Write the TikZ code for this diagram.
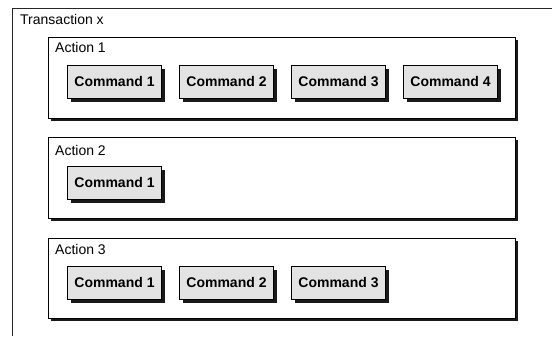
\documentclass[tikz,border=0pt]{standalone}
\usepackage{fontspec}
\setmainfont{Liberation Sans}
\usetikzlibrary{shadows}
\tikzset{
  actionbox/.style={draw=black, line width=0.8pt, fill=white, minimum width=467pt, minimum height=81pt, inner sep=0pt,
    drop shadow={shadow xshift=3pt, shadow yshift=-3pt, fill=black, opacity=0.9}},
  cmdbox/.style={draw=black, line width=0.7pt, fill=gray!22, minimum width=94pt, minimum height=33pt, inner sep=0pt,
    text height=10pt, text depth=0.5pt,
    font=\fontsize{14pt}{16pt}\selectfont\bfseries,
    drop shadow={shadow xshift=3.5pt, shadow yshift=-3.5pt, fill=black, opacity=0.9}},
  lbl/.style={anchor=base west, inner sep=0pt, font=\fontsize{14pt}{16pt}\selectfont},
  frameline/.style={draw=black!85, line width=0.8pt}
}
\begin{document}
\begin{tikzpicture}[x=1pt,y=-1pt]
\useasboundingbox (0,0) rectangle (552,345);
% outer transaction frame (open at right and bottom)
\coordinate (fbl) at (12,336);
\coordinate (ftl) at (12,8);
\coordinate (ftr) at (552,8);
\draw[frameline] (fbl) -- (ftl) -- (ftr);
\node[lbl] (tx) at (20,25) {Transaction x};

% Action 1
\node[actionbox] (a1) at (281.5,77.5) {};
\node[lbl] (a1l) at (55,53) {Action 1};
\node[cmdbox] (a1c1) at (114.5,82) {Command 1};
\node[cmdbox] (a1c2) at (226.5,82) {Command 2};
\node[cmdbox] (a1c3) at (338.5,82) {Command 3};
\node[cmdbox] (a1c4) at (450.5,82) {Command 4};

% Action 2
\node[actionbox] (a2) at (281.5,177.5) {};
\node[lbl] (a2l) at (55,155) {Action 2};
\node[cmdbox] (a2c1) at (114.5,182.5) {Command 1};

% Action 3
\node[actionbox, minimum height=80pt] (a3) at (281.5,278) {};
\node[lbl] (a3l) at (55,254) {Action 3};
\node[cmdbox] (a3c1) at (114.5,283) {Command 1};
\node[cmdbox] (a3c2) at (226.5,283) {Command 2};
\node[cmdbox] (a3c3) at (338.5,283) {Command 3};
\end{tikzpicture}
\end{document}
